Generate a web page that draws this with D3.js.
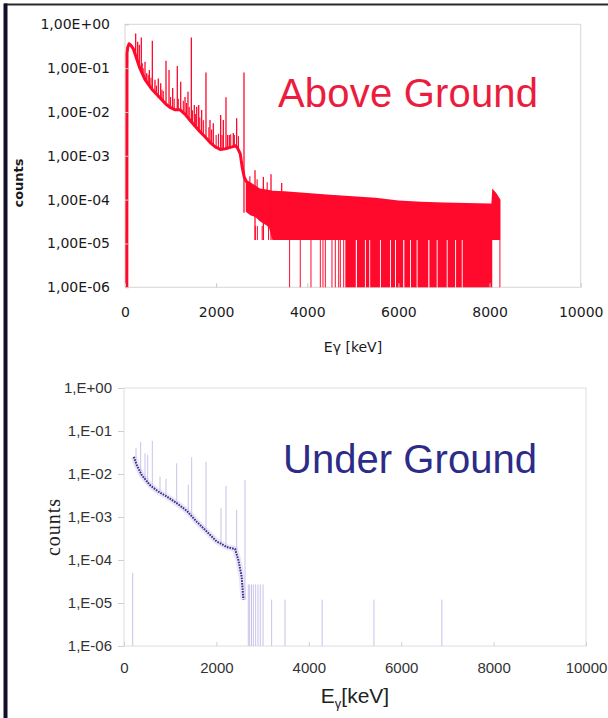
<!DOCTYPE html>
<html>
<head>
<meta charset="utf-8">
<script src="https://cdn.jsdelivr.net/npm/d3@7"></script>
<style>
  body { margin: 0; background: #fff; }
  svg { display: block; }
</style>
</head>
<body>
<svg id="chart" width="608" height="718"></svg>
<script>
// ---------- shared axis data ----------
const energyTicks = [0, 2000, 4000, 6000, 8000, 10000];
const decadeTicks = [1, 1e-1, 1e-2, 1e-3, 1e-4, 1e-5, 1e-6];
const aboveTickLabels = ["1,00E+00", "1,00E-01", "1,00E-02", "1,00E-03", "1,00E-04", "1,00E-05", "1,00E-06"];
const belowTickLabels = ["1,E+00", "1,E-01", "1,E-02", "1,E-03", "1,E-04", "1,E-05", "1,E-06"];

// ---------- above-ground spectrum ----------
// continuum (keV, counts)
const aboveContE = [40, 44, 60, 90, 130, 180, 250, 330, 440, 600, 770, 900, 1000, 1100, 1210, 1320, 1430, 1540, 1650, 1760, 1870, 1980, 2090, 2200, 2350, 2430, 2470, 2530, 2570, 2615, 2660, 2700];
const aboveContC = [1e-6, 0.22, 0.3, 0.36, 0.33, 0.28, 0.17, 0.097, 0.055, 0.032, 0.021, 0.015, 0.0125, 0.0112, 0.0112, 0.0088, 0.0064, 0.0047, 0.0035, 0.0027, 0.002, 0.0016, 0.0014, 0.00145, 0.0016, 0.0017, 0.0015, 0.0011, 0.00056, 0.00033, 0.00026, 0.00024];
// gamma lines: energy, line top, line foot
const abovePeakE    = [234, 278, 314, 358, 439, 476, 534, 600, 658, 731, 783, 900, 966, 1046, 1148, 1222, 1317, 1382, 1456, 1521, 1573, 1617, 1682, 1777, 1865, 1938, 2099, 2158, 2216, 2289, 2377, 2450, 2611, 2853, 3036, 3204, 3438];
const abovePeakTop  = [0.62, 0.40, 0.34, 0.50, 0.14, 0.076, 0.091, 0.42, 0.054, 0.058, 0.045, 0.148, 0.091, 0.035, 0.112, 0.049, 0.022, 0.029, 0.50, 0.0144, 0.0132, 0.0144, 0.0111, 0.079, 0.0066, 0.0055, 0.0085, 0.0066, 0.0216, 0.0030, 0.0033, 0.0072, 0.079, 4.7e-4, 3.3e-4, 3.8e-4, 2.4e-4];
const abovePeakFoot = [0.2, 0.14, 0.1, 0.085, 0.055, 0.05, 0.042, 0.032, 0.027, 0.021, 0.019, 0.015, 0.013, 0.012, 0.011, 0.011, 0.009, 0.0075, 0.0066, 0.0047, 0.0042, 0.0038, 0.0033, 0.0027, 0.002, 0.0017, 0.0014, 0.0014, 0.00145, 0.0015, 0.0016, 0.0017, 5e-5, 1.2e-5, 1.2e-5, 1.2e-5, 1.2e-5];
// weaker lines riding on the continuum: energy, line top
const aboveMinorE   = [380, 400, 510, 570, 690, 810, 840, 1000, 1080, 1170, 1280, 1350, 1410, 1480, 1550, 1640, 1720, 1840, 1900, 2000, 2050, 2130, 2250, 2320, 2400, 2490, 2740, 2900, 3120];
const aboveMinorTop = [0.13, 0.1, 0.07, 0.06, 0.04, 0.032, 0.03, 0.022, 0.02, 0.02, 0.018, 0.016, 0.013, 0.011, 0.009, 0.0075, 0.0065, 0.0045, 0.004, 0.003, 0.0032, 0.003, 0.003, 0.0031, 0.003, 0.0028, 3.4e-4, 2.9e-4, 2.5e-4];
// noisy high-energy band: upper and lower edges
const aboveBandE   = [2650, 2750, 2860, 2960, 3100, 3160, 3235, 3500, 4000, 4500, 5000, 5500, 6000, 6500, 7000, 7500, 8000, 8040, 8060, 8150, 8240];
const aboveBandTop = [2.8e-4, 2.5e-4, 2.1e-4, 1.8e-4, 1.7e-4, 1.65e-4, 1.6e-4, 1.55e-4, 1.42e-4, 1.3e-4, 1.2e-4, 1.1e-4, 9.6e-5, 9.0e-5, 8.6e-5, 8.4e-5, 8.2e-5, 8.2e-5, 1.8e-4, 1.4e-4, 1.0e-4];
const aboveBandLow = [5.3e-5, 4.4e-5, 4.0e-5, 3.2e-5, 2.6e-5, 2.3e-5, 1.2e-5, 1.2e-5, 1.2e-5, 1.2e-5, 1.2e-5, 1.2e-5, 1.2e-5, 1.2e-5, 1.2e-5, 1.2e-5, 1.2e-5, 1.2e-5, 1.2e-5, 1.2e-5, 1.2e-5];
const aboveFloor = 1.2e-5;      // one-count level
const aboveEmpty = 1e-6;        // empty channels sit on the axis
// single empty channels
const aboveEmptyE = [2860, 2905, 3010, 3150, 3612, 3846, 4081, 4286, 4344, 4396, 4542, 4615, 4689, 4725, 4799, 8227];
// runs of mostly empty channels
const aboveEmptyFrom = [4835, 5090, 5285, 5380, 5615, 5835, 5945, 6130, 6275, 6420, 6680, 6860, 7080, 7265, 7410];
const aboveEmptyTo   = [5065, 5265, 5360, 5595, 5815, 5925, 6105, 6255, 6400, 6655, 6840, 7060, 7245, 7390, 8059];

// ---------- underground spectrum ----------
const belowContE = [210, 223, 274, 383, 563, 743, 924, 1140, 1357, 1573, 1790, 2006, 2100, 2222, 2403, 2475, 2547, 2569, 2583];
const belowContC = [0.025, 0.0232, 0.0162, 0.0095, 0.0055, 0.0039, 0.0030, 0.0021, 0.0014, 7.8e-4, 4.6e-4, 2.7e-4, 2.4e-4, 2.0e-4, 1.8e-4, 1.0e-4, 4.1e-5, 2.0e-5, 1.2e-5];
const belowPeakE    = [260, 361, 455, 513, 613, 779, 909, 1140, 1392, 1465, 1775, 2100, 2208, 2439, 2619];
const belowPeakTop  = [0.04, 0.056, 0.03, 0.028, 0.059, 0.0087, 0.0077, 0.0177, 0.0056, 0.0245, 0.0193, 0.0016, 0.0053, 0.00146, 0.0072];
const belowPeakFoot = [0.017, 0.0098, 0.007, 0.006, 0.0048, 0.0035, 0.003, 0.0021, 0.0013, 0.0011, 4.7e-4, 2.5e-4, 2.0e-4, 1.6e-4, 1.2e-5];
// sparse single counts above the end point
const belowSparseE   = [188, 2690, 2720, 2760, 2800, 2850, 2900, 2950, 3010, 3196, 3485, 4290, 5410, 6880];
const belowSparseTop = [5e-5, 2.7e-5, 2.7e-5, 2.7e-5, 2.7e-5, 2.7e-5, 2.7e-5, 2.7e-5, 2.7e-5, 1.2e-5, 1.2e-5, 1.2e-5, 1.2e-5, 1.2e-5];

const svg = d3.select("#chart");

// page frame
svg.append("line").attr("x1", 4).attr("x2", 608).attr("y1", 4.5).attr("y2", 4.5)
  .attr("stroke", "#2a2a2a").attr("stroke-width", 2);
svg.append("line").attr("x1", 5.5).attr("x2", 5.5).attr("y1", 3.5).attr("y2", 718)
  .attr("stroke", "#10102a").attr("stroke-width", 4);

const RED = "#ff0a2c";

// ================= above ground =================
const xA = d3.scaleLinear().domain([0, 10000]).range([125, 580.7]);
const yA = d3.scaleLog().domain([1e-6, 1]).range([287.3, 24.3]);
const gA = svg.append("g");

gA.append("rect").attr("x", xA(0)).attr("y", yA(1))
  .attr("width", xA(10000) - xA(0)).attr("height", yA(1e-6) - yA(1))
  .attr("fill", "none").attr("stroke", "#d6d6d6").attr("stroke-width", 1);

// band of the high-energy tail
const bandA = d3.area()
  .x((d, i) => xA(aboveBandE[i]))
  .y0((d, i) => yA(aboveBandLow[i]))
  .y1((d, i) => yA(aboveBandTop[i]));
gA.append("path").attr("d", bandA(aboveBandE)).attr("fill", RED);

// runs of empty channels
gA.selectAll(".run").data(aboveEmptyFrom).join("rect")
  .attr("x", (d) => xA(d))
  .attr("width", (d, i) => Math.max(1, xA(aboveEmptyTo[i]) - xA(d)))
  .attr("y", yA(aboveFloor))
  .attr("height", yA(aboveEmpty) - yA(aboveFloor))
  .attr("fill", RED);
gA.selectAll(".empty").data(aboveEmptyE).join("line")
  .attr("x1", (d) => xA(d)).attr("x2", (d) => xA(d))
  .attr("y1", (d) => yA(d < 3200 ? 2.5e-5 : aboveFloor)).attr("y2", (d) => yA(d < 3200 ? aboveFloor : aboveEmpty))
  .attr("stroke", RED).attr("stroke-width", 1);

// continuum
const lineA = d3.line().x((d, i) => xA(aboveContE[i])).y((d, i) => yA(aboveContC[i]));
gA.append("path").attr("d", lineA(aboveContE))
  .attr("fill", "none").attr("stroke", RED).attr("stroke-width", 3).attr("stroke-linejoin", "round");
gA.append("line").attr("x1", xA(40)).attr("x2", xA(40)).attr("y1", yA(1e-6)).attr("y2", yA(0.22))
  .attr("stroke", RED).attr("stroke-width", 1.2);

// weaker lines, drawn up from the continuum
const contAt = (e) => {
  const i = d3.bisectRight(aboveContE, e);
  if (i <= 0) return aboveContC[0];
  if (i >= aboveContE.length) return aboveContC[aboveContC.length - 1];
  const t = (e - aboveContE[i - 1]) / (aboveContE[i] - aboveContE[i - 1]);
  return Math.exp(Math.log(aboveContC[i - 1]) * (1 - t) + Math.log(aboveContC[i]) * t);
};
gA.selectAll(".minor").data(aboveMinorE).join("line")
  .attr("x1", (d) => xA(d)).attr("x2", (d) => xA(d))
  .attr("y1", (d, i) => yA(aboveMinorTop[i])).attr("y2", (d) => yA(d > 2700 ? 1.6e-4 : contAt(d)))
  .attr("stroke", RED).attr("stroke-width", 1.1);

// gamma lines
gA.selectAll(".peak").data(abovePeakE).join("line")
  .attr("x1", (d) => xA(d)).attr("x2", (d) => xA(d))
  .attr("y1", (d, i) => yA(abovePeakTop[i])).attr("y2", (d, i) => yA(abovePeakFoot[i]))
  .attr("stroke", RED).attr("stroke-width", 1.3);

// axes
const axA = gA.append("g").attr("transform", `translate(${xA(0)},0)`)
  .call(d3.axisLeft(yA).tickValues(decadeTicks).tickFormat((d, i) => aboveTickLabels[i]).tickSize(-4).tickPadding(15));
const axAx = gA.append("g").attr("transform", `translate(0,${yA(1e-6)})`)
  .call(d3.axisBottom(xA).tickValues(energyTicks).tickFormat(d3.format("d")).tickSize(-4).tickPadding(20));
[axA, axAx].forEach((ax) => {
  ax.select(".domain").remove();
  ax.selectAll("line").attr("stroke", "#c8c8c8");
  ax.selectAll("text").attr("font-family", "DejaVu Sans, Verdana, sans-serif").attr("font-size", 14).attr("fill", "#1a1a1a");
});

gA.append("text").attr("x", 353).attr("y", 352).attr("text-anchor", "middle")
  .attr("font-family", "DejaVu Sans, Verdana, sans-serif").attr("font-size", 14).attr("fill", "#1a1a1a")
  .text("Eγ [keV]");
gA.append("text").attr("transform", "translate(23,183) rotate(-90)").attr("text-anchor", "middle")
  .attr("font-family", "DejaVu Sans, Verdana, sans-serif").attr("font-size", 13).attr("font-weight", "bold")
  .attr("fill", "#1a1a1a").text("counts");
gA.append("text").attr("x", 278).attr("y", 107).attr("textLength", 260)
  .attr("font-family", "Liberation Sans, Arial, sans-serif").attr("font-size", 40).attr("fill", "#ec1c3e")
  .text("Above Ground");

// ================= under ground =================
const xB = d3.scaleLinear().domain([0, 10000]).range([124, 586]);
const yB = d3.scaleLog().domain([1e-6, 1]).range([646, 388]);
const gB = svg.append("g");
const PURPLE = "#3b2d8c";
const LAVENDER = "#c9c2ea";

gB.append("rect").attr("x", xB(0)).attr("y", yB(1))
  .attr("width", xB(10000) - xB(0)).attr("height", yB(1e-6) - yB(1))
  .attr("fill", "none").attr("stroke", "#dedede").attr("stroke-width", 1);

// sparse single counts
gB.selectAll(".sparse").data(belowSparseE).join("line")
  .attr("x1", (d) => xB(d)).attr("x2", (d) => xB(d))
  .attr("y1", (d, i) => yB(belowSparseTop[i])).attr("y2", yB(1e-6))
  .attr("stroke", LAVENDER).attr("stroke-width", 1);

// gamma lines
gB.selectAll(".peak").data(belowPeakE).join("line")
  .attr("x1", (d) => xB(d)).attr("x2", (d) => xB(d))
  .attr("y1", (d, i) => yB(belowPeakTop[i])).attr("y2", (d, i) => yB(belowPeakFoot[i]))
  .attr("stroke", LAVENDER).attr("stroke-width", 1);

// scatter band and continuum points
const lineB = d3.line().x((d, i) => xB(belowContE[i])).y((d, i) => yB(belowContC[i]));
gB.append("path").attr("d", lineB(belowContE))
  .attr("fill", "none").attr("stroke", LAVENDER).attr("stroke-width", 6).attr("stroke-opacity", 0.4)
  .attr("stroke-linejoin", "round");
gB.append("path").attr("d", lineB(belowContE))
  .attr("fill", "none").attr("stroke", PURPLE).attr("stroke-width", 2)
  .attr("stroke-dasharray", "1.6,1.1").attr("stroke-linejoin", "round");

const axB = gB.append("g").attr("transform", `translate(${xB(0)},0)`)
  .call(d3.axisLeft(yB).tickValues(decadeTicks).tickFormat((d, i) => belowTickLabels[i]).tickSize(6).tickPadding(6));
const axBx = gB.append("g").attr("transform", `translate(0,${yB(1e-6)})`)
  .call(d3.axisBottom(xB).tickValues(energyTicks).tickFormat(d3.format("d")).tickSize(-4).tickPadding(16));
[axB, axBx].forEach((ax) => {
  ax.select(".domain").remove();
  ax.selectAll("line").attr("stroke", "#d0d0d0");
  ax.selectAll("text").attr("font-family", "Liberation Sans, Arial, sans-serif").attr("font-size", 15).attr("fill", "#333");
});

const xt = gB.append("text").attr("x", 355).attr("y", 703).attr("text-anchor", "middle")
  .attr("font-family", "Liberation Sans, Arial, sans-serif").attr("font-size", 21).attr("fill", "#222");
xt.append("tspan").text("E");
xt.append("tspan").attr("font-size", 13).attr("dy", 5).text("γ");
xt.append("tspan").attr("dy", -5).text("[keV]");

gB.append("text").attr("transform", "translate(60,527) rotate(-90)").attr("text-anchor", "middle")
  .attr("font-family", "Liberation Serif, Times New Roman, serif").attr("font-size", 20).attr("fill", "#222")
  .attr("letter-spacing", 1).text("counts");
gB.append("text").attr("x", 283).attr("y", 473).attr("textLength", 254)
  .attr("font-family", "Liberation Sans, Arial, sans-serif").attr("font-size", 40).attr("fill", "#2c2c88")
  .text("Under Ground");
</script>
</body>
</html>
